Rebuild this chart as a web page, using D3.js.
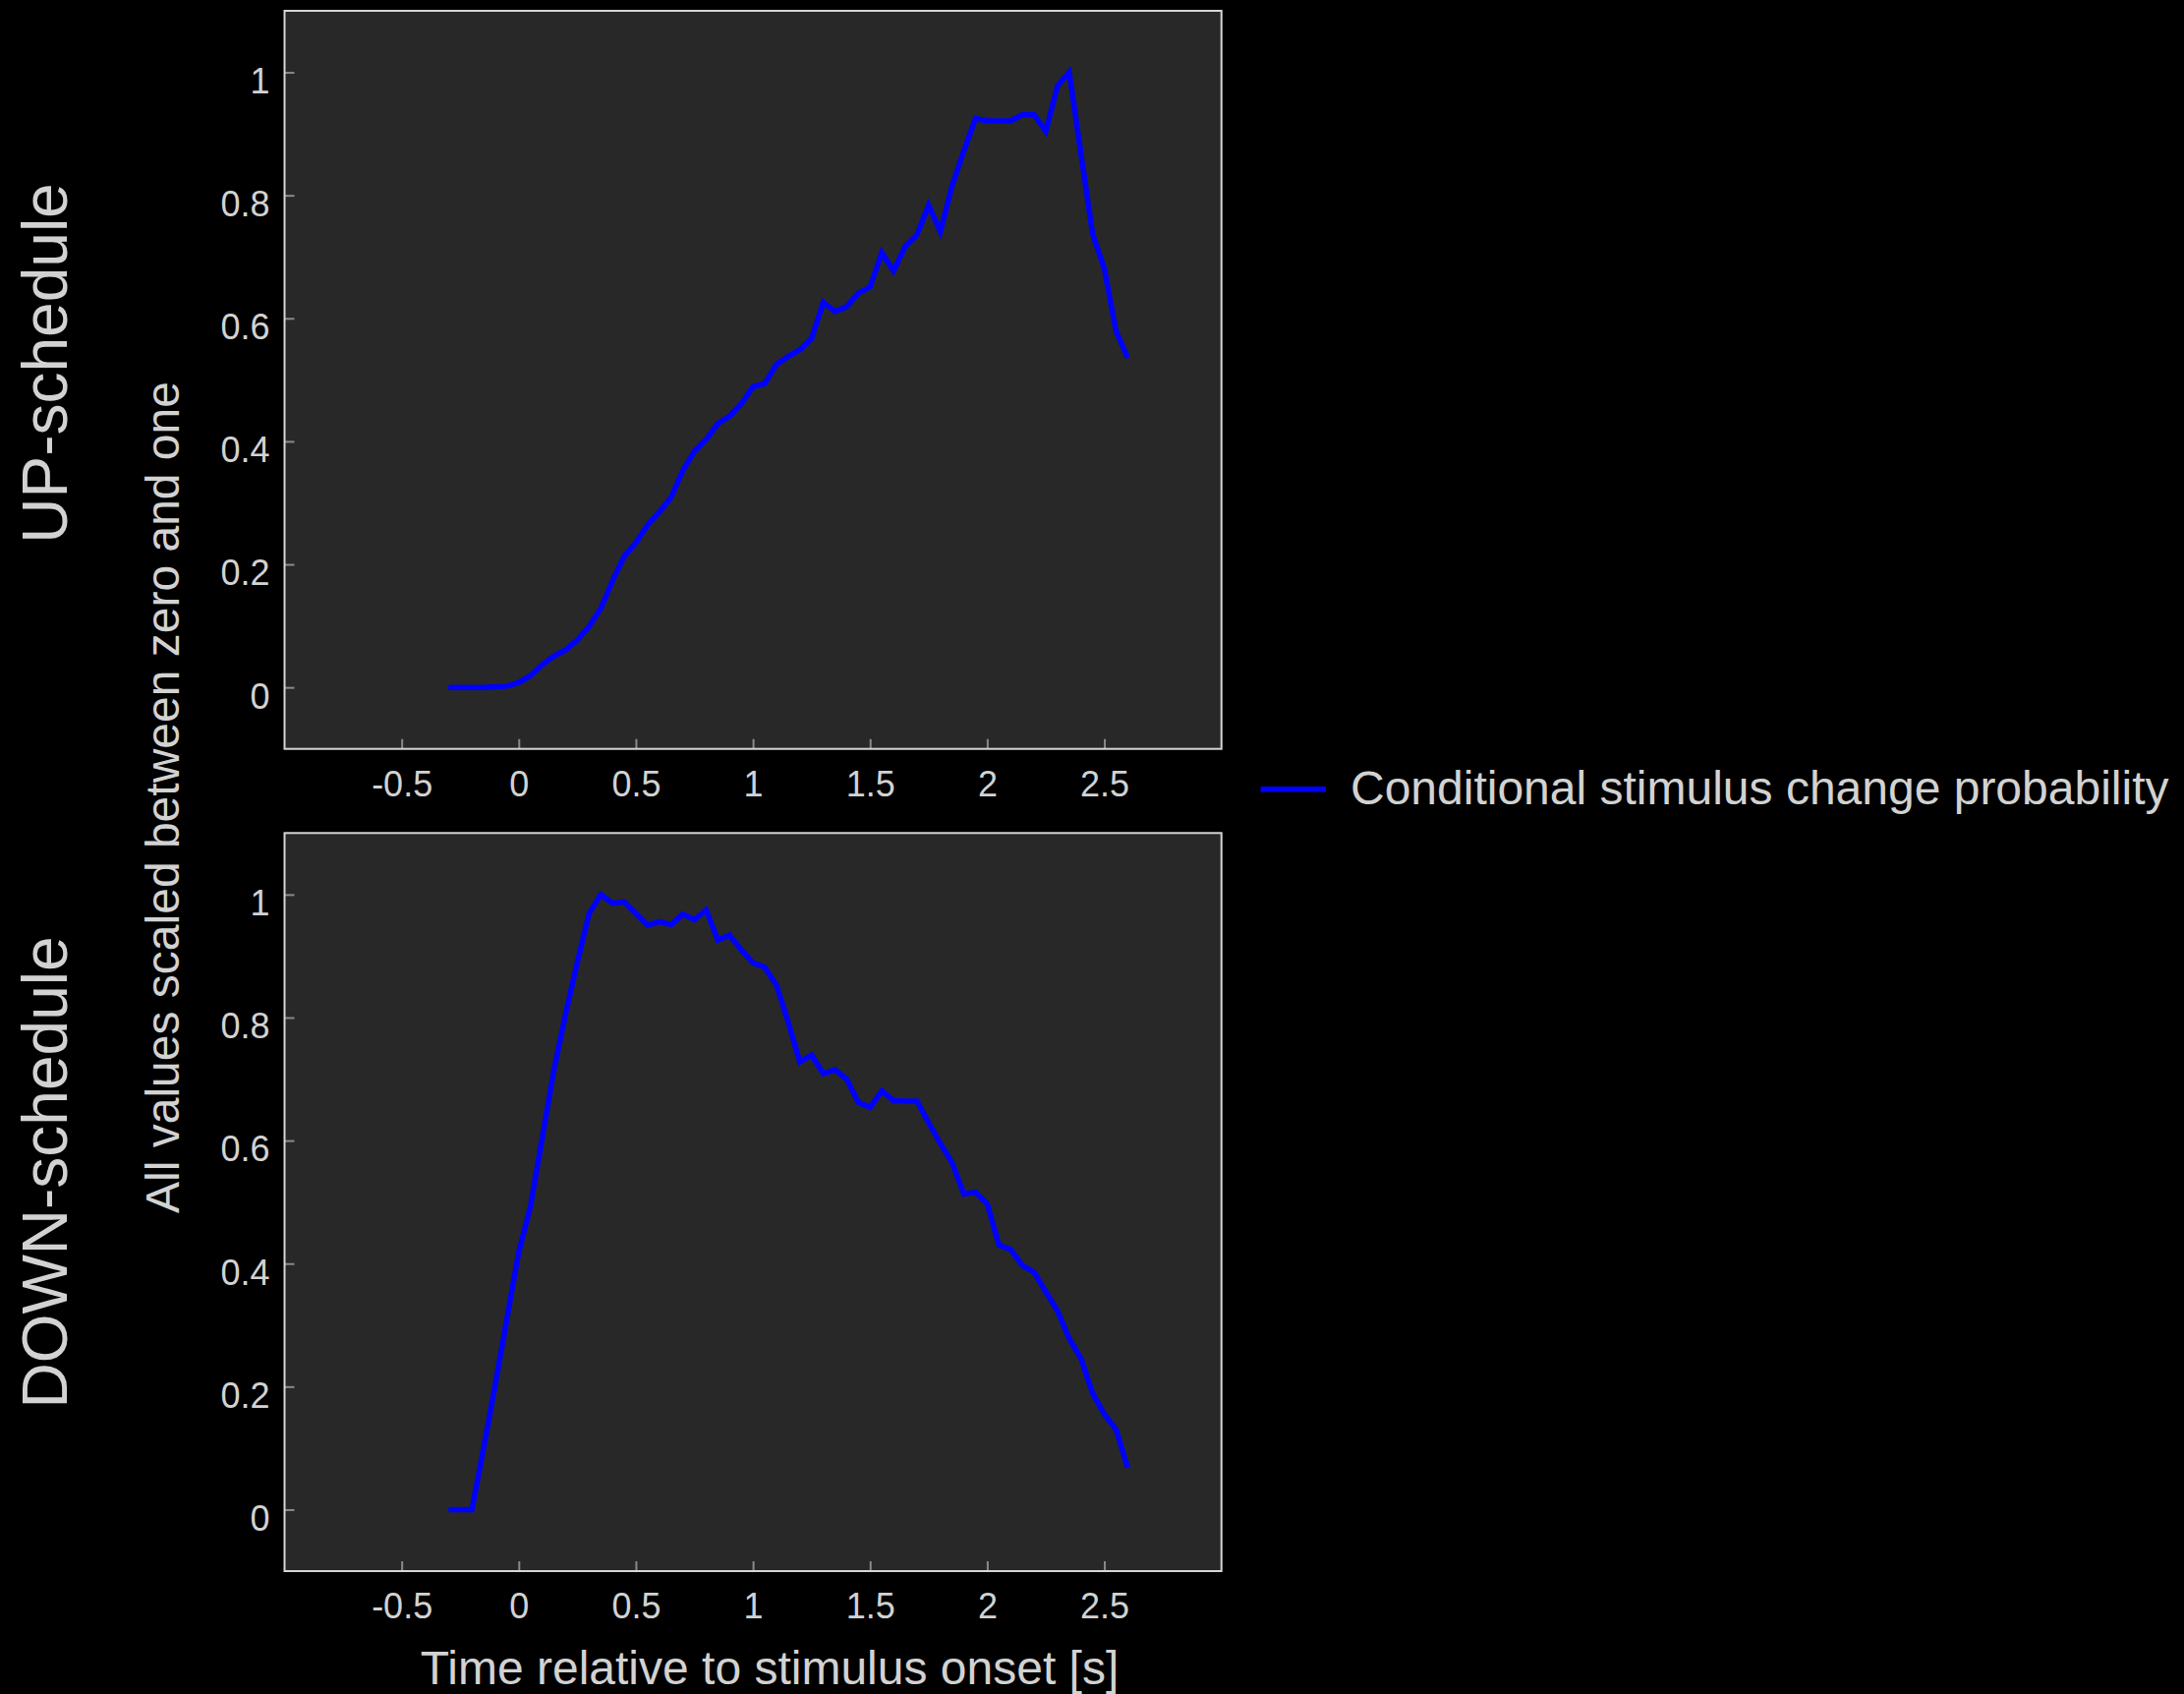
<!DOCTYPE html>
<html>
<head>
<meta charset="utf-8">
<script src="https://cdn.jsdelivr.net/npm/d3@7"></script>
<style>
  html, body { margin: 0; padding: 0; background: #000; }
  svg { display: block; }
  text { font-family: "Liberation Sans", Arial, sans-serif; fill: #d2d2d2; }
</style>
</head>
<body>
<svg id="chart" width="2222" height="1723"></svg>
<script>
// Time axis (seconds relative to stimulus onset)
const time = [-0.3, -0.25, -0.2, -0.15, -0.1, -0.05, 0, 0.05, 0.1, 0.15, 0.2, 0.25, 0.3, 0.35, 0.4, 0.45,
  0.5, 0.55, 0.6, 0.65, 0.7, 0.75, 0.8, 0.85, 0.9, 0.95, 1, 1.05, 1.1, 1.15, 1.2, 1.25, 1.3, 1.35, 1.4,
  1.45, 1.5, 1.55, 1.6, 1.65, 1.7, 1.75, 1.8, 1.85, 1.9, 1.95, 2, 2.05, 2.1, 2.15, 2.2, 2.25, 2.3, 2.35,
  2.4, 2.45, 2.5, 2.55, 2.6];

// Conditional stimulus change probability, UP-schedule (scaled 0..1)
const upSchedule = [0, 0, 0, 0, 0.001, 0.002, 0.008, 0.019, 0.037, 0.051, 0.061, 0.077, 0.099, 0.128,
  0.173, 0.213, 0.235, 0.264, 0.285, 0.309, 0.352, 0.384, 0.403, 0.429, 0.441, 0.461, 0.489, 0.494,
  0.525, 0.538, 0.549, 0.567, 0.626, 0.611, 0.619, 0.641, 0.651, 0.707, 0.677, 0.717, 0.736, 0.784,
  0.741, 0.816, 0.872, 0.925, 0.921, 0.921, 0.921, 0.931, 0.931, 0.904, 0.978, 1.0, 0.868, 0.737,
  0.681, 0.579, 0.536];

// Conditional stimulus change probability, DOWN-schedule (scaled 0..1)
const downSchedule = [0, 0, 0, 0.100, 0.204, 0.312, 0.419, 0.493, 0.604, 0.715, 0.806, 0.890, 0.969,
  1.0, 0.986, 0.988, 0.969, 0.950, 0.956, 0.951, 0.968, 0.959, 0.975, 0.926, 0.934, 0.910, 0.889,
  0.882, 0.853, 0.793, 0.728, 0.739, 0.709, 0.715, 0.700, 0.662, 0.654, 0.681, 0.665, 0.664, 0.664,
  0.629, 0.595, 0.564, 0.513, 0.516, 0.497, 0.430, 0.423, 0.397, 0.386, 0.354, 0.323, 0.278, 0.246,
  0.189, 0.155, 0.130, 0.068];

const xTicks = [-0.5, 0, 0.5, 1, 1.5, 2, 2.5];
const xTickLabels = ["-0.5", "0", "0.5", "1", "1.5", "2", "2.5"];
const yTicks = [0, 0.2, 0.4, 0.6, 0.8, 1];
const yTickLabels = ["0", "0.2", "0.4", "0.6", "0.8", "1"];

const panelNames = ["UP-schedule", "DOWN-schedule"];
const seriesName = "Conditional stimulus change probability";
const xTitle = "Time relative to stimulus onset [s]";
const yTitle = "All values scaled between zero and one";

const svg = d3.select("#chart");
const lineColor = "#0000ff";
const left = 289.5, right = 1242.7;
const panels = [
  { top: 11, bottom: 761.7, values: upSchedule, name: panelNames[0], labelY: 369.5 },
  { top: 847.3, bottom: 1598, values: downSchedule, name: panelNames[1], labelY: 1192.5 }
];

const x = d3.scaleLinear().domain([-1, 3]).range([left, right]);

panels.forEach(p => {
  const y = d3.scaleLinear().domain([-0.1, 1.1]).range([p.bottom, p.top]);
  const g = svg.append("g");

  g.append("rect")
    .attr("x", left).attr("y", p.top)
    .attr("width", right - left).attr("height", p.bottom - p.top)
    .attr("fill", "#282828");

  const xAxis = d3.axisBottom(x)
    .tickValues(xTicks)
    .tickFormat((d, i) => xTickLabels[i])
    .tickSizeInner(-10).tickSizeOuter(0).tickPadding(22.5);
  const gx = g.append("g").attr("transform", `translate(0,${p.bottom})`).call(xAxis);
  gx.select(".domain").remove();
  gx.selectAll(".tick line").attr("stroke", "#8a8a8a").attr("stroke-width", 2);
  gx.selectAll(".tick text").attr("font-size", 36).attr("fill", "#d2d2d2")
    .attr("font-family", "Liberation Sans, Arial, sans-serif");

  const yAxis = d3.axisLeft(y)
    .tickValues(yTicks)
    .tickFormat((d, i) => yTickLabels[i])
    .tickSizeInner(-10).tickSizeOuter(0).tickPadding(15);
  const gy = g.append("g").attr("transform", `translate(${left},0)`).call(yAxis);
  gy.select(".domain").remove();
  gy.selectAll(".tick line").attr("stroke", "#8a8a8a").attr("stroke-width", 2);
  gy.selectAll(".tick text").attr("font-size", 36).attr("fill", "#d2d2d2")
    .attr("dy", "0.58em")
    .attr("font-family", "Liberation Sans, Arial, sans-serif");

  g.append("rect")
    .attr("x", left).attr("y", p.top)
    .attr("width", right - left).attr("height", p.bottom - p.top)
    .attr("fill", "none").attr("stroke", "#d6d6d6").attr("stroke-width", 2);

  const line = d3.line().x((d, i) => x(time[i])).y(d => y(d));
  g.append("path")
    .datum(p.values)
    .attr("d", line)
    .attr("fill", "none")
    .attr("stroke", lineColor)
    .attr("stroke-width", 5.5)
    .attr("stroke-linejoin", "miter");

  svg.append("text")
    .attr("transform", `translate(68,${p.labelY}) rotate(-90)`)
    .attr("text-anchor", "middle")
    .attr("font-size", 64)
    .text(p.name);
});

// Shared axis titles
svg.append("text")
  .attr("x", 783).attr("y", 1713)
  .attr("text-anchor", "middle")
  .attr("font-size", 48)
  .text(xTitle);

svg.append("text")
  .attr("transform", "translate(182,811) rotate(-90)")
  .attr("text-anchor", "middle")
  .attr("font-size", 48)
  .text(yTitle);

// Legend
const legend = svg.append("g");
legend.append("line")
  .attr("x1", 1282.5).attr("x2", 1349)
  .attr("y1", 802.7).attr("y2", 802.7)
  .attr("stroke", lineColor).attr("stroke-width", 5.5);
legend.append("text")
  .attr("x", 1374).attr("y", 818)
  .attr("font-size", 48)
  .text(seriesName);
</script>
</body>
</html>
